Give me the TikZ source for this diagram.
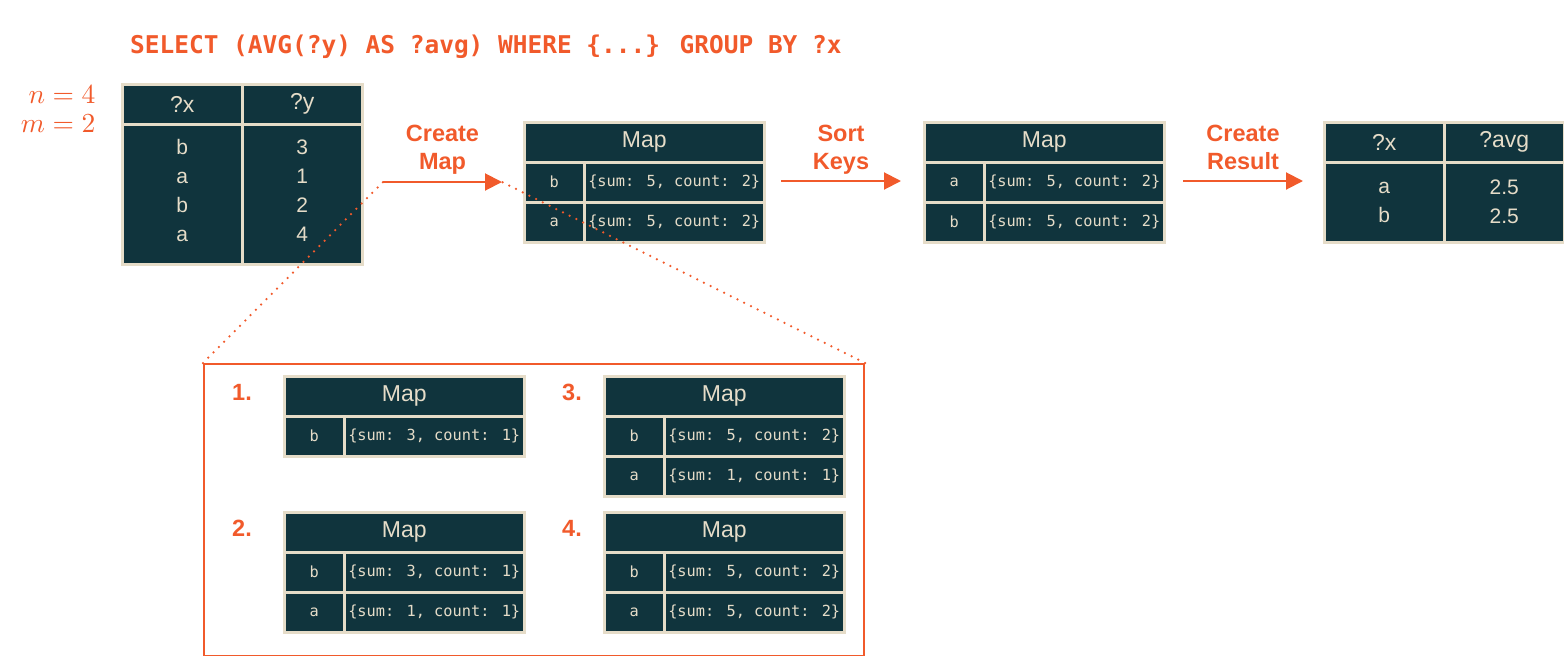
\documentclass[tikz,border=0pt]{standalone}
\usepackage{fontspec}
\newfontfamily\headfont{Liberation Sans}
\newfontfamily\codefont{DejaVu Sans Mono}
\usetikzlibrary{arrows.meta}
\definecolor{cellbg}{HTML}{10343D}
\definecolor{cellrule}{HTML}{E5DCC8}
\definecolor{accent}{HTML}{F15A2B}
\tikzset{cell/.style={draw=cellrule,fill=cellbg,text=cellrule,line width=2.5pt,inner sep=0pt,anchor=north west},
  headcell/.style={cell,font=\headfont\fontsize{23}{26}\selectfont},
  bodycell/.style={cell,font=\headfont\fontsize{21}{29}\selectfont,align=center},
  keycell/.style={cell,minimum width=60pt,minimum height=40pt,font=\codefont\fontsize{15.3}{18}\selectfont},
  valcell/.style={cell,minimum width=180pt,minimum height=40pt,font=\codefont\fontsize{15.3}{18}\selectfont},
  steplabel/.style={text=accent,font=\headfont\bfseries\fontsize{23.5}{28}\selectfont,align=center,inner sep=0pt},
  sizelabel/.style={anchor=base east,inner sep=0pt,text=accent,scale=2.75},
  arrow/.style={-{Triangle[length=17pt,width=17pt]},draw=accent,line width=2pt},
  dots/.style={draw=accent,line width=2.5pt,line cap=round,dash pattern=on 0pt off 7.5pt}}

% map table: name, left, top, rows key/sum/count
\newcommand{\mapbox}[4]{%
  \node[headcell,minimum width=240pt,minimum height=40pt] (#1) at (#2,#3) {Map};
  \foreach \key/\sm/\cnt [count=\i] in {#4}
    \node[keycell] (#1k\i) at (#2,#3+40*\i) {\key}
      node[valcell] (#1v\i) at (#2+60,#3+40*\i) {\{sum: \sm, count: \cnt\}};
}

\begin{document}
\begin{tikzpicture}[x=1pt,y=-1pt]
  \useasboundingbox (0,0) rectangle (1564,656);
  \node[anchor=base west,inner sep=0pt,text=accent,font=\codefont\bfseries\fontsize{24.45}{28}\selectfont] (query) at (130,53) {SELECT (AVG(?y) AS ?avg) WHERE \{...\} GROUP BY ?x};
  \node[sizelabel] (nrows) at (96,103) {$n=4$};
  \node[sizelabel] (mkeys) at (96,132) {$m=2$};
  % input
  \node[headcell,minimum width=120pt,minimum height=40pt] (inx) at (121,83) {?x};
  \node[headcell,minimum width=120pt,minimum height=40pt] (iny) at (241,83) {?y};
  \node[bodycell,minimum width=120pt,minimum height=140pt] (inxb) at (121,123) {b\\a\\b\\a\\[-21pt]};
  \node[bodycell,minimum width=120pt,minimum height=140pt] (inyb) at (241,123) {3\\1\\2\\4\\[-21pt]};
  % maps
  \mapbox{built}{523}{121}{b/5/2,a/5/2}
  \mapbox{sorted}{923}{121}{a/5/2,b/5/2}
  % result
  \node[headcell,minimum width=120pt,minimum height=40pt] (resx) at (1323,121) {?x};
  \node[headcell,minimum width=120pt,minimum height=40pt] (resavg) at (1443,121) {?avg};
  \node[bodycell,minimum width=120pt,minimum height=80pt] (resxb) at (1323,161) {a\\b};
  \node[bodycell,minimum width=120pt,minimum height=80pt] (resavgb) at (1443,161) {2.5\\2.5};
  % steps
  \coordinate (c1s) at (383,182);
  \coordinate (c1e) at (502,182);
  \coordinate (c2s) at (781,181);
  \coordinate (c2e) at (901,181);
  \coordinate (c3s) at (1183,181);
  \coordinate (c3e) at (1303,181);
  \draw[arrow] (c1s) -- node[steplabel,above=7pt] {Create\\Map} (c1e);
  \draw[arrow] (c2s) -- node[steplabel,above=6pt] {Sort\\Keys} (c2e);
  \draw[arrow] (c3s) -- node[steplabel,above=10pt] {Create\\Result} (c3e);
  % detail
  \node[draw=accent,line width=2pt,inner sep=0pt,anchor=north west,minimum width=660pt,minimum height=292pt] (detail) at (203,363) {};
  \node[steplabel] (st1) at (242,392) {1.};
  \node[steplabel] (st2) at (242,528) {2.};
  \node[steplabel] (st3) at (572,392) {3.};
  \node[steplabel] (st4) at (572,528) {4.};
  \mapbox{one}{283}{375}{b/3/1}
  \mapbox{two}{283}{511}{b/3/1,a/1/1}
  \mapbox{three}{603}{375}{b/5/2,a/1/1}
  \mapbox{four}{603}{511}{b/5/2,a/5/2}
  \draw[dots] (detail.north west) -- (c1s);
  \draw[dots] (detail.north east) -- (c1e);
\end{tikzpicture}
\end{document}
